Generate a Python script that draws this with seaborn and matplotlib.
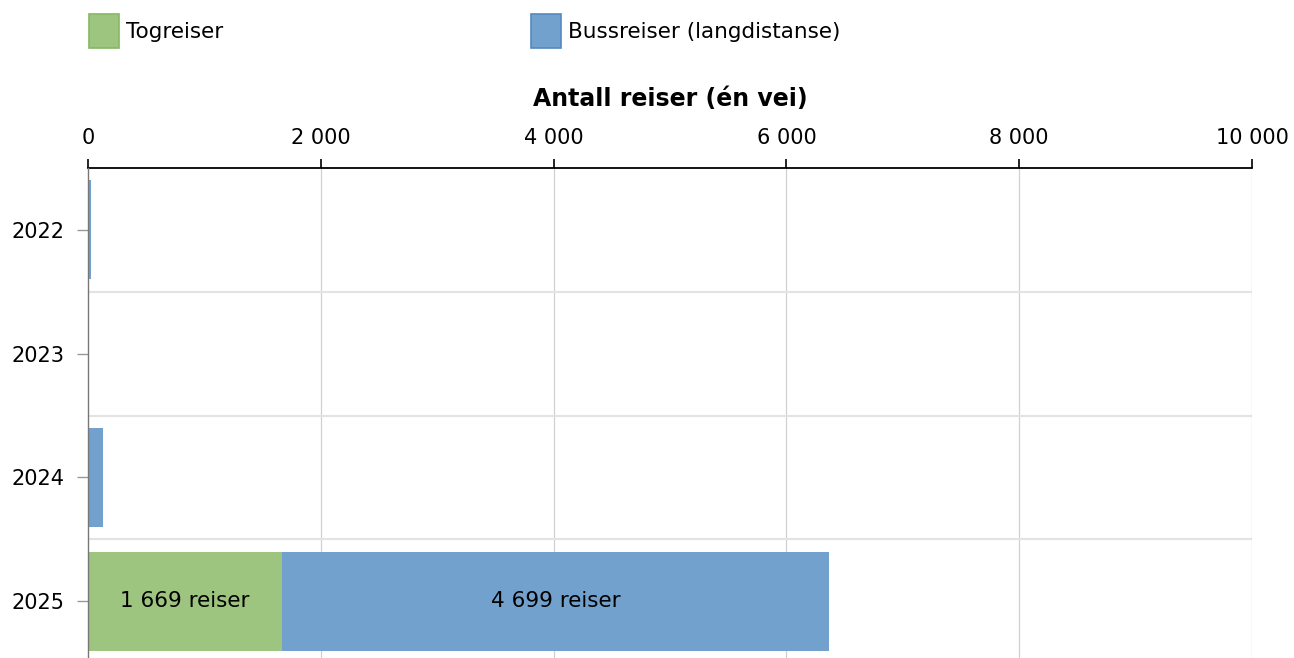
import matplotlib
matplotlib.use("Agg")
import matplotlib.pyplot as plt
import seaborn as sns
import pandas as pd
from matplotlib.patches import Patch
from matplotlib.ticker import FuncFormatter

years = ["2022", "2023", "2024", "2025"]
tog = [0, 0, 0, 1669]
buss = [25, 0, 130, 4699]
series_names = ["Togreiser", "Bussreiser (langdistanse)"]
x_ticks = [0, 2000, 4000, 6000, 8000, 10000]

green = "#9dc57f"
green_edge = "#84b863"
blue = "#72a1cd"
blue_edge = "#5589c0"

sns.set_style("white")
plt.rcParams['font.family'] = ['DejaVu Sans']
plt.rcParams['text.color'] = 'black'
plt.rcParams['axes.labelcolor'] = 'black'

df = pd.DataFrame({"year": years, "tog": tog, "buss": buss})
df["total"] = df["tog"] + df["buss"]

fig = plt.figure(figsize=(12.94, 6.58), dpi=100)
ax = fig.add_axes([88/1294, 0, (1252-88)/1294, 1 - 168/658])

sns.barplot(data=df, y="year", x="total", orient="h", color=blue, width=0.8,
            saturation=1, ax=ax, linewidth=0, zorder=3)
sns.barplot(data=df, y="year", x="tog", orient="h", color=green, width=0.8,
            saturation=1, ax=ax, linewidth=0, zorder=3)

ax.set_xlim(0, 10000)
ax.set_ylim(3.5 - 5/123.7, -0.5)
ax.xaxis.set_ticks_position("top")
ax.xaxis.set_label_position("top")
ax.set_xticks(x_ticks)
ax.xaxis.set_major_formatter(FuncFormatter(lambda v, p: f"{int(v):,}".replace(",", " ")))
ax.tick_params(axis="x", which="major", top=True, bottom=False, direction="out",
               length=6.5, width=1.2, color="black", labelcolor="black",
               labelsize=15, pad=8)
ax.tick_params(axis="y", which="major", left=True, direction="out", length=8, width=1,
               color="#999999", labelcolor="black", labelsize=15, pad=9)
ax.set_xlabel("Antall reiser (én vei)", fontsize=17, fontweight="bold", labelpad=16)
ax.set_ylabel("")

# grids
for t in x_ticks[1:]:
    ax.axvline(t, color="#d0d0d0", lw=0.9, zorder=1)
for b in [0.5, 1.5, 2.5]:
    ax.axhline(b, color="#e3e3e3", lw=1.5, zorder=1)

for s in ["right", "bottom"]:
    ax.spines[s].set_visible(False)
ax.spines["top"].set_color("black")
ax.spines["top"].set_linewidth(1.3)
ax.spines["left"].set_color("#777777")
ax.spines["left"].set_linewidth(1.0)
ax.spines["left"].set_zorder(5)

# labels for 2025
i = 3
ax.text(tog[i] / 2, i, f"{tog[i]:,} reiser".replace(",", " "), ha="center", va="center",
        fontsize=15.5, zorder=6)
ax.text(tog[i] + buss[i] / 2, i, f"{buss[i]:,} reiser".replace(",", " "), ha="center",
        va="center", fontsize=15.5, zorder=6)

handles = [Patch(facecolor=green, edgecolor=green_edge, lw=1.2, label=series_names[0]),
           Patch(facecolor=blue, edgecolor=blue_edge, lw=1.2, label=series_names[1])]
fig.legend(handles=handles, loc="upper left", bbox_to_anchor=(80/1294, 1 - 5/658),
           ncol=2, frameon=False, fontsize=15.5, handlelength=1.4, handleheight=2.08,
           handletextpad=0.33, columnspacing=14.3, borderaxespad=0)

fig.savefig("out.png", dpi=100)
